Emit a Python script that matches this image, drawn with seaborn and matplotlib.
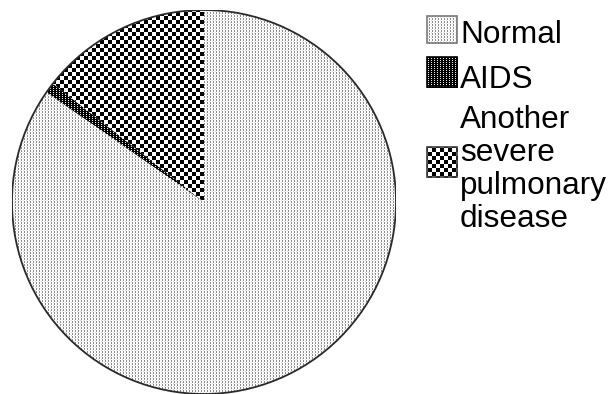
import numpy as np
import matplotlib
matplotlib.use("Agg")
import matplotlib.pyplot as plt
from matplotlib.patches import Rectangle, Circle
import seaborn as sns

# Study groups and patient counts
categories = ["Normal", "AIDS", "Another\nsevere\npulmonary\ndisease"]
counts = [94, 1, 16]

W, H = 612, 394
DPI = 100

sns.set_theme(style="white")
plt.rcParams["font.family"] = ["Liberation Sans", "DejaVu Sans"]

fig = plt.figure(figsize=(W / DPI, H / DPI), dpi=DPI)
fig.patch.set_facecolor("white")

# Pie axes: centre (204, 202) px, radius 192 px
cx, cy, r = 204, 202, 192
ax = fig.add_axes([(cx - r) / W, (H - cy - r) / H, 2 * r / W, 2 * r / H])
ax.patch.set_visible(False)
ax.set_zorder(2)

wedges, _ = ax.pie(counts, startangle=90, counterclock=False, radius=1,
                   wedgeprops=dict(facecolor="none", linewidth=0))
ax.add_patch(Circle((0, 0), 1, facecolor="none", edgecolor="#2a2a2a", lw=1.3))
ax.set_xlim(-1, 1)
ax.set_ylim(-1, 1)
ax.set_aspect("equal")
ax.axis("off")


# Fill textures (grey level per pixel, tiled over the whole canvas)
def tile(unit):
    unit = np.asarray(unit, dtype=float)
    ry = H // unit.shape[0] + 1
    rx = W // unit.shape[1] + 1
    return np.tile(unit, (ry, rx))[:H, :W]


dots = tile([[0.55, 1.0, 1.0],
             [0.55, 1.0, 1.0],
             [1.0, 1.0, 0.85]])
sq = np.zeros((8, 8))
sq[:4, :4] = 1
sq[4:, 4:] = 1
checker = tile(sq)
aids_unit = np.zeros((2, 6))
aids_unit[0, 2] = 0.9
aids_unit[0, 5] = 0.9
aids = tile(aids_unit)

textures = [dots, aids, checker]


def textured(clip_patch, tex):
    im = fig.figimage(tex, 0, 0, cmap="gray", vmin=0, vmax=1,
                      origin="upper", zorder=1)
    im.set_clip_path(clip_patch)
    return im


for w, tex in zip(wedges, textures):
    textured(w, tex)

# Legend: swatches and labels in pixel layout
boxes = [(427, 16, 30, 27), (427, 57, 30, 30), (427, 147, 30, 30)]
edge_cols = ["#7a7a7a", "#000000", "#3a3a3a"]
baselines = [[43], [88], [127.7, 160.7, 193.7, 226.7]]
fs = 31.5 * 72 / DPI

for (bx, by, bw, bh), tex, ec, label, bl in zip(boxes, textures, edge_cols,
                                                categories, baselines):
    rect = Rectangle((bx / W, 1 - (by + bh) / H), bw / W, bh / H,
                     transform=fig.transFigure, facecolor="none",
                     edgecolor=ec, lw=1.2, zorder=3)
    fig.add_artist(rect)
    clip = Rectangle((bx / W, 1 - (by + bh) / H), bw / W, bh / H,
                     transform=fig.transFigure)
    textured(clip, tex)
    for line, y in zip(label.split("\n"), bl):
        fig.text(460 / W, 1 - y / H, line, fontsize=fs, color="black",
                 ha="left", va="baseline")

fig.savefig("out.png", dpi=DPI, facecolor="white")
